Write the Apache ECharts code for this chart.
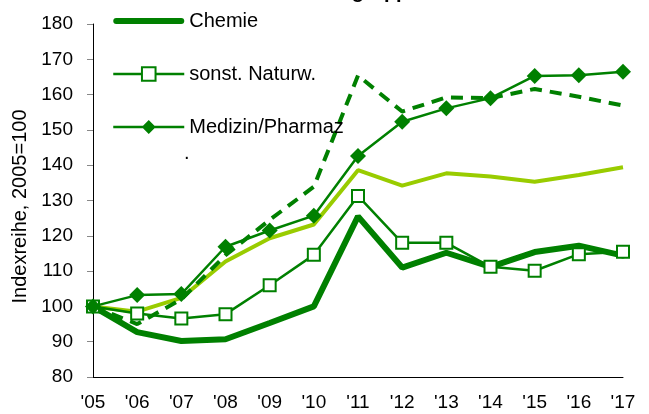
<!DOCTYPE html>
<html>
<head>
<meta charset="utf-8">
<script src="https://cdn.jsdelivr.net/npm/echarts@6/dist/echarts.min.js"></script>
<style>
  html, body { margin: 0; padding: 0; background: #fff; }
  #main { width: 649px; height: 414px; }
</style>
</head>
<body>
<div id="main"></div>
<script>
  // data
  const years = ["'05", "'06", "'07", "'08", "'09", "'10", "'11", "'12", "'13", "'14", "'15", "'16", "'17"]
  const chemie = [100, 92.7, 90.2, 90.7, 95.3, 100, 125.5, 111, 115.2, 111.2, 115.4, 117.2, 114.4]
  const naturw = [100, 98, 96.6, 97.8, 106, 114.6, 131.3, 118, 118, 111.2, 110.1, 114.8, 115.5]
  const medizin = [100, 103.2, 103.5, 116.9, 121.5, 125.7, 142.6, 152.3, 156.1, 159, 165.3, 165.5, 166.5]
  const hellgruen = [100, 98.5, 102.4, 112.7, 119.3, 123.2, 138.6, 134.2, 137.7, 136.8, 135.3, 137.2, 139.4]
  const gestrichelt = [100, 95, 102, 114.5, 124.5, 133.9, 165.4, 155.2, 159.2, 159, 161.6, 159.4, 156.9]
  const yTicks = { min: 80, max: 180, step: 10 }

  const dunkel = '#008000'
  const hell = '#99cc00'

  let myChart = echarts.init(document.getElementById('main'))

  const option = {
    animation: false,
    title: {
      text: 'Fachgruppen',
      left: 300,
      top: -23,
      textStyle: { fontFamily: 'Liberation Sans', fontSize: 20, fontWeight: 'bold', color: '#000' }
    },
    legend: {
      orient: 'vertical',
      left: 107,
      top: 6,
      itemWidth: 71,
      itemHeight: 17,
      itemGap: 33,
      data: [
        { name: 'Chemie', icon: 'path://M3,0H68A3,3 0 0 1 68,6H3A3,3 0 0 1 3,0Z' },
        { name: 'sonst. Naturw.', lineStyle: { width: 2.5 } },
        { name: 'Medizin/Pharmaz', icon: 'path://M0,6.25H29.75L35.5,0.5L41.25,6.25H71V8.75H41.25L35.5,14.5L29.75,8.75H0Z' }
      ],
      textStyle: { fontFamily: 'Liberation Sans', fontSize: 20, lineHeight: 20, color: '#000' }
    },
    graphic: [
      { type: 'text', left: 184, top: 143, style: { text: '.', font: '20px Liberation Sans', fill: '#000' } }
    ],
    grid: { left: 93, right: 26, top: 24, bottom: 37 },
    xAxis: {
      type: 'category',
      data: years,
      boundaryGap: false,
      axisLine: { lineStyle: { color: '#000', width: 1 } },
      axisTick: { show: false },
      axisLabel: { fontFamily: 'Liberation Sans', fontSize: 19, color: '#000', margin: 16, interval: 0 }
    },
    yAxis: {
      type: 'value',
      min: yTicks.min,
      max: yTicks.max,
      interval: yTicks.step,
      name: 'Indexreihe, 2005=100',
      nameLocation: 'middle',
      nameGap: 56,
      nameTextStyle: { fontFamily: 'Liberation Sans', fontSize: 20, color: '#000', padding: [0, 12, 0, 0] },
      axisLine: { show: true, lineStyle: { color: '#000', width: 1 } },
      axisTick: { show: true, length: 6, lineStyle: { color: '#888' } },
      splitLine: { show: false },
      axisLabel: { fontFamily: 'Liberation Sans', fontSize: 19, color: '#000', margin: 20 }
    },
    series: [
      {
        name: 'Chemie', type: 'line', data: chemie, clip: false,
        symbol: 'none',
        lineStyle: { color: dunkel, width: 6, cap: 'round' },
        itemStyle: { color: dunkel }
      },
      {
        name: 'Reihe 4', type: 'line', data: hellgruen, clip: false,
        symbol: 'none',
        lineStyle: { color: hell, width: 4 },
        itemStyle: { color: hell }
      },
      {
        name: 'Reihe 5', type: 'line', data: gestrichelt, clip: false,
        symbol: 'none',
        lineStyle: { color: dunkel, width: 4, type: [12, 8] },
        itemStyle: { color: dunkel }
      },
      {
        name: 'sonst. Naturw.', type: 'line', data: naturw, clip: false,
        symbol: 'rect', symbolSize: 12, showAllSymbol: true,
        lineStyle: { color: dunkel, width: 2.5 },
        itemStyle: { color: '#fff', borderColor: dunkel, borderWidth: 2 }
      },
      {
        name: 'Medizin/Pharmaz', type: 'line', data: medizin, clip: false,
        symbol: 'diamond', symbolSize: 16, showAllSymbol: true,
        lineStyle: { color: dunkel, width: 2.5 },
        itemStyle: { color: dunkel }
      }
    ]
  }

  option && myChart.setOption(option)
</script>
</body>
</html>
